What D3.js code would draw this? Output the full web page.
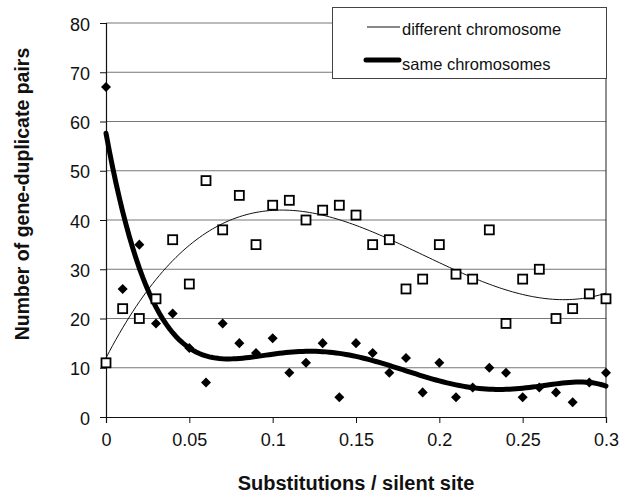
<!DOCTYPE html>
<html>
<head>
<meta charset="utf-8">
<script src="https://cdn.jsdelivr.net/npm/d3@7"></script>
<style>
  body { margin: 0; background: #fff; }
  svg { font-family: "Liberation Sans", Arial, sans-serif; }
</style>
</head>
<body>
<svg id="chart" width="629" height="497"></svg>
<script>
// substitutions per silent site (0 .. 0.3, step 0.01)
const subst = [0, 0.01, 0.02, 0.03, 0.04, 0.05, 0.06, 0.07, 0.08, 0.09,
    0.1, 0.11, 0.12, 0.13, 0.14, 0.15, 0.16, 0.17, 0.18, 0.19,
    0.2, 0.21, 0.22, 0.23, 0.24, 0.25, 0.26, 0.27, 0.28, 0.29, 0.3];

// different chromosome (open squares)
const diffChrom = [11, 22, 20, 24, 36, 27, 48, 38, 45, 35,
    43, 44, 40, 42, 43, 41, 35, 36, 26, 28,
    35, 29, 28, 38, 19, 28, 30, 20, 22, 25, 24];

// same chromosomes (filled diamonds)
const sameChrom = [67, 26, 35, 19, 21, 14, 7, 19, 15, 13,
    16, 9, 11, 15, 4, 15, 13, 9, 12, 5,
    11, 4, 6, 10, 9, 4, 6, 5, 3, 7, 9];

const xTicks = [0, 0.05, 0.1, 0.15, 0.2, 0.25, 0.3];
const yTicks = [0, 10, 20, 30, 40, 50, 60, 70, 80];

const margin = { left: 106, right: 23, top: 23, bottom: 80 };
const W = 629, H = 497;

const svg = d3.select('#chart');

const x = d3.scaleLinear().domain([0, 0.3]).range([margin.left, W - margin.right]);
const y = d3.scaleLinear().domain([0, 80]).range([H - margin.bottom, margin.top]);

// least squares polynomial trendline (like a spreadsheet trendline)
function polyFit(xs, ys, deg) {
    const t = xs.map(v => (v - 0.15) / 0.15);
    const n = deg + 1;
    const A = d3.range(n).map(() => new Array(n + 1).fill(0));
    t.forEach((tv, k) => {
        for (let i = 0; i < n; i++) {
            for (let j = 0; j < n; j++) A[i][j] += Math.pow(tv, i + j);
            A[i][n] += ys[k] * Math.pow(tv, i);
        }
    });
    for (let c = 0; c < n; c++) {
        let p = c;
        for (let r = c + 1; r < n; r++) if (Math.abs(A[r][c]) > Math.abs(A[p][c])) p = r;
        [A[c], A[p]] = [A[p], A[c]];
        for (let r = 0; r < n; r++) {
            if (r === c) continue;
            const f = A[r][c] / A[c][c];
            for (let k = c; k <= n; k++) A[r][k] -= f * A[c][k];
        }
    }
    const coef = A.map((row, i) => row[n] / row[i]);
    return v => {
        const tv = (v - 0.15) / 0.15;
        return coef.reduce((s, cf, i) => s + cf * Math.pow(tv, i), 0);
    };
}

// gridlines
svg.append('g').selectAll('line')
    .data(yTicks.filter(d => d > 0))
    .join('line')
    .attr('x1', x(0)).attr('x2', x(0.3))
    .attr('y1', d => y(d)).attr('y2', d => y(d))
    .attr('stroke', '#777').attr('stroke-width', 1);

// right border
svg.append('line')
    .attr('x1', x(0.3)).attr('x2', x(0.3))
    .attr('y1', y(80)).attr('y2', y(0))
    .attr('stroke', '#222').attr('stroke-width', 1);

// axes
const xAxis = svg.append('g')
    .attr('transform', `translate(0,${y(0)})`)
    .call(d3.axisBottom(x).tickValues(xTicks).tickSize(6).tickPadding(10)
        .tickFormat(d => d3.format('')(+d.toFixed(2))));
const yAxis = svg.append('g')
    .attr('transform', `translate(${x(0)},0)`)
    .call(d3.axisLeft(y).tickValues(yTicks).tickSize(6).tickPadding(10));

[xAxis, yAxis].forEach(g => {
    g.select('.domain').attr('stroke', '#111').attr('stroke-width', 1.2);
    g.selectAll('.tick line').attr('stroke', '#111');
    g.selectAll('text').attr('font-size', 18).attr('fill', '#111')
        .attr('font-family', '"Liberation Sans", Arial, sans-serif');
});
yAxis.selectAll('text').attr('dy', '0.4em');

// trendlines
const grid = d3.range(0, 0.3001, 0.002);
const line = f => d3.line().x(d => x(d)).y(d => y(f(d)))(grid);

svg.append('path')
    .attr('d', line(polyFit(subst, diffChrom, 3)))
    .attr('fill', 'none').attr('stroke', '#111').attr('stroke-width', 1);

svg.append('path')
    .attr('d', line(polyFit(subst, sameChrom, 5)))
    .attr('fill', 'none').attr('stroke', '#000').attr('stroke-width', 5)
    .attr('stroke-linecap', 'round');

// markers
svg.append('g').selectAll('rect')
    .data(subst.map((d, i) => [d, diffChrom[i]]))
    .join('rect')
    .attr('x', d => x(d[0]) - 4.5).attr('y', d => y(d[1]) - 4.5)
    .attr('width', 9).attr('height', 9)
    .attr('fill', '#fff').attr('stroke', '#000').attr('stroke-width', 1.8);

const diamond = d3.symbol().type(d3.symbolDiamond2).size(64);
svg.append('g').selectAll('path')
    .data(subst.map((d, i) => [d, sameChrom[i]]))
    .join('path')
    .attr('d', diamond)
    .attr('transform', d => `translate(${x(d[0])},${y(d[1])})`)
    .attr('fill', '#000');

// legend
const leg = svg.append('g');
leg.append('rect')
    .attr('x', 332.5).attr('y', 7.5).attr('width', 274).attr('height', 71)
    .attr('fill', '#fff').attr('stroke', '#444').attr('stroke-width', 1);
leg.append('line')
    .attr('x1', 367).attr('x2', 400).attr('y1', 27).attr('y2', 27)
    .attr('stroke', '#111').attr('stroke-width', 1);
leg.append('text').attr('x', 402).attr('y', 35)
    .attr('font-size', 16.5).attr('fill', '#111').text('different chromosome');
leg.append('line')
    .attr('x1', 366).attr('x2', 399).attr('y1', 60).attr('y2', 60)
    .attr('stroke', '#000').attr('stroke-width', 5).attr('stroke-linecap', 'round');
leg.append('text').attr('x', 402).attr('y', 70)
    .attr('font-size', 16.5).attr('fill', '#111').text('same chromosomes');

// axis titles
svg.append('text')
    .attr('x', 356).attr('y', 490)
    .attr('text-anchor', 'middle').attr('font-size', 20).attr('font-weight', 'bold')
    .attr('fill', '#111')
    .text('Substitutions / silent site');

svg.append('text')
    .attr('transform', 'translate(29,194) rotate(-90)')
    .attr('text-anchor', 'middle').attr('font-size', 19.5).attr('font-weight', 'bold')
    .attr('fill', '#111')
    .text('Number of gene-duplicate pairs');
</script>
</body>
</html>
